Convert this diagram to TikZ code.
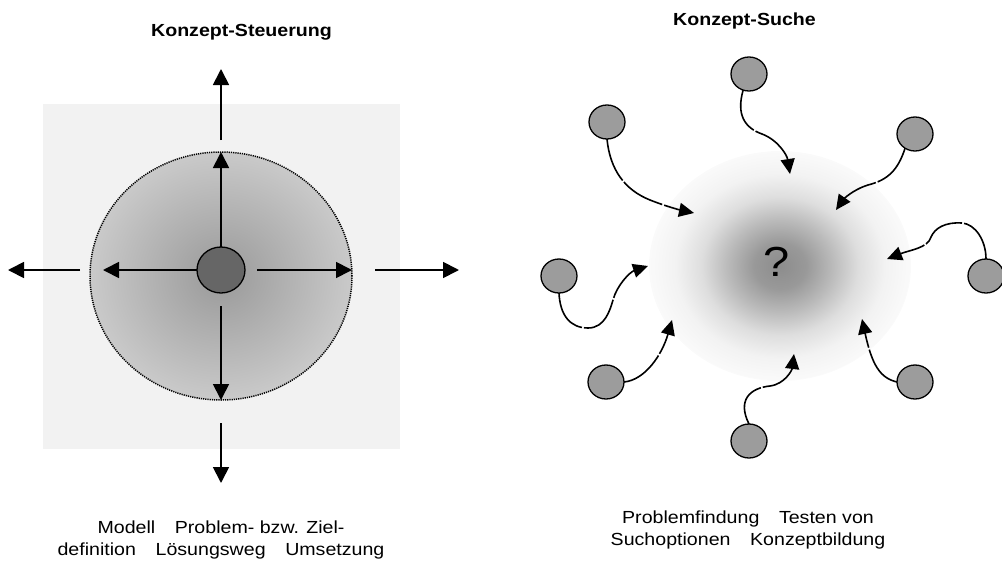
\documentclass[tikz,border=0pt]{standalone}
\usepackage{graphicx}
\usepackage{fontspec}
\setmainfont{Liberation Sans}
\usetikzlibrary{arrows.meta,shapes.geometric}
\pgfdeclareradialshading{fieldshade}{\pgfpoint{0bp}{0bp}}{color(0bp)=(black!40); color(25bp)=(black!21); color(50bp)=(black!21)}
\pgfdeclareradialshading{fogshade}{\pgfpoint{0bp}{0bp}}{color(0bp)=(black!45); color(5bp)=(black!40); color(10bp)=(black!27); color(15bp)=(black!13); color(20bp)=(black!5); color(24bp)=(black!2.5); color(25bp)=(black!2); color(25.5bp)=(white); color(50bp)=(white)}
\newcommand{\stretchtxt}[1]{\scalebox{1.12}[1]{#1}}
\definecolor{bggray}{HTML}{F2F2F2}
\definecolor{satgray}{HTML}{9C9C9C}
\definecolor{coregray}{HTML}{666666}
\begin{document}
\begin{tikzpicture}[x=1pt,y=-1pt,
  txt/.style={font=\fontsize{17.5}{22}\selectfont, inner sep=0pt, align=center},
  ttl/.style={font=\bfseries\fontsize{17.5}{22}\selectfont, inner sep=0pt, anchor=base},
  arr/.style={line width=1.8pt, -{Triangle[length=16pt,width=16pt]}},
  curvy/.style={line width=1.6pt, dash pattern=on 45pt off 2pt, -{Triangle[length=15pt,width=14pt]}},
  sat/.style={ellipse, draw, line width=1.3pt, fill=satgray, minimum width=36pt, minimum height=34pt, inner sep=0pt, outer sep=0pt},
  core/.style={ellipse, draw, line width=1.3pt, fill=coregray, minimum width=48pt, minimum height=46pt, inner sep=0pt, outer sep=0pt},
  field/.style={ellipse, shading=fieldshade, draw, line width=1.5pt, dash pattern=on 1.2pt off 1pt, minimum width=262pt, minimum height=248pt, inner sep=0pt, outer sep=0pt},
  fog/.style={ellipse, shading=fogshade, minimum width=262pt, minimum height=230pt, inner sep=0pt, outer sep=0pt}
]
\useasboundingbox (0,0) rectangle (1002,562);

% ---------- left: Konzept-Steuerung ----------
\node[ttl] (t1) at (241.5,36) {\stretchtxt{Konzept-Steuerung}};
\fill[bggray] (43,104) rectangle (400,449);
\node[field] (field) at (221,276) {};
\node[core] (core) at (221,270) {};

\coordinate (lefttip) at (103,270);
\coordinate (rstart) at (257,270);
\coordinate (righttip) at (352,270);
\coordinate (dstart) at (221,306);
\draw[arr] (core.north) -- (field.north);
\draw[arr] (core.west) -- (lefttip);
\draw[arr] (rstart) -- (righttip);
\draw[arr] (dstart) -- (field.south);

\coordinate (uo1) at (221,140); \coordinate (uo2) at (221,69);
\coordinate (lo1) at (80,270);  \coordinate (lo2) at (8,270);
\coordinate (ro1) at (375,270); \coordinate (ro2) at (459,270);
\coordinate (do1) at (221,423); \coordinate (do2) at (221,483);
\draw[arr] (uo1) -- (uo2);
\draw[arr] (lo1) -- (lo2);
\draw[arr] (ro1) -- (ro2);
\draw[arr] (do1) -- (do2);

\node[txt, anchor=base] (lt) at (221,555) {\stretchtxt{Modell\quad Problem- bzw. Ziel-}\\\stretchtxt{definition\quad Lösungsweg\quad Umsetzung}};

% ---------- right: Konzept-Suche ----------
\node[ttl] (t2) at (744.5,25) {\stretchtxt{Konzept-Suche}};
\node[fog] (fog) at (780,266) {};
\node[inner sep=0pt, font=\fontsize{42}{42}\selectfont] (q) at (777,262) {\stretchtxt{?}};

\node[sat] (s1) at (749,74) {};
\node[sat] (s2) at (607,122) {};
\node[sat] (s3) at (915,134) {};
\node[sat] (s4) at (986,276) {};
\node[sat] (s5) at (559,276) {};
\node[sat] (s6) at (606,382) {};
\node[sat] (s7) at (749,441) {};
\node[sat] (s8) at (915,382) {};

\coordinate (e1) at (790,174);
\coordinate (e2) at (694,213);
\coordinate (e3) at (836,210);
\coordinate (e4) at (887,259);
\coordinate (e5) at (648,266);
\coordinate (e6) at (672,320);
\coordinate (e7) at (794,354);
\coordinate (e8) at (862,319);

\draw[curvy] (s1.250) .. controls (736,115) and (745,128) .. (762,134) .. controls (778,140) and (787,155) .. (e1);
\draw[curvy] (s2.south) .. controls (610,170) and (625,190) .. (650,200) .. controls (665,206) and (680,210) .. (e2);
\draw[curvy] (s3.235) .. controls (898,170) and (888,180) .. (868,185) .. controls (852,190) and (843,200) .. (e3);
\draw[curvy] (s4.north) .. controls (986,240) and (975,224) .. (962,223) .. controls (945,222) and (935,228) .. (931,237) .. controls (928,248) and (910,250) .. (e4);
\draw[curvy] (s5.south) .. controls (560,315) and (570,328) .. (588,328) .. controls (605,328) and (610,310) .. (613,300) .. controls (617,285) and (630,272) .. (e5);
\draw[curvy] (s6.east) .. controls (645,380) and (662,355) .. (e6);
\draw[curvy] (s7.north) .. controls (737,400) and (750,388) .. (770,386) .. controls (785,384) and (792,370) .. (e7);
\draw[curvy] (s8.west) .. controls (880,378) and (872,365) .. (e8);

\node[txt, anchor=base] (rt) at (748,545) {\stretchtxt{Problemfindung\quad Testen von}\\\stretchtxt{Suchoptionen\quad Konzeptbildung}};
\end{tikzpicture}
\end{document}
